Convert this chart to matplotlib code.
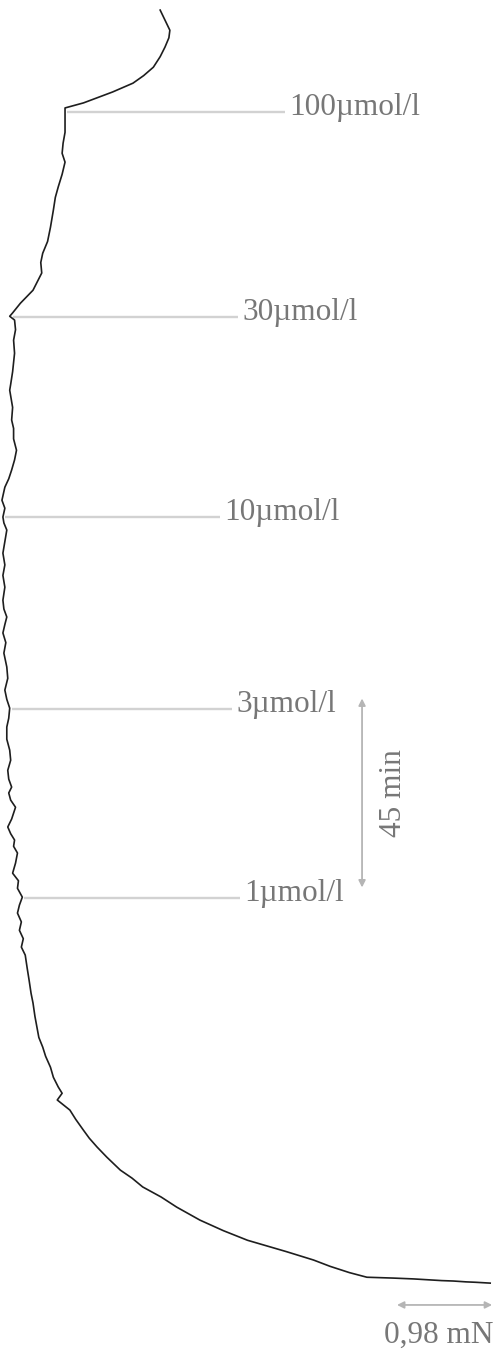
import numpy as np
import matplotlib
matplotlib.use("Agg")
import matplotlib.pyplot as plt

# tension trace: time (min, from start) and force (mN)
trace_time = [0.0, 0.2, 0.3, 0.5, 0.6, 0.8, 1.0, 1.2, 1.4, 2.5, 4.0, 5.5, 7.5, 10.2, 12.5,
              15.0, 18.1, 20.5, 22.9, 25.0, 26.9, 30.0, 32.4, 34.5, 36.4, 39.0, 41.2, 43.6,
              45.2, 46.7, 49.0, 51.4, 54.0, 56.2, 58.5, 61.0, 63.5, 66.7, 69.0, 72.1, 75.0,
              78.1, 80.0, 82.0, 84.0, 86.0, 88.1, 90.0, 91.9, 94.0, 95.8, 97.6, 100.0, 102.4,
              104.0, 105.5, 107.0, 108.6, 110.5, 113.3, 115.0, 116.7, 118.1, 120.0, 122.1,
              124.5, 126.9, 129.5, 132.4, 134.5, 136.9, 139.0, 141.2, 144.0, 146.7, 150.0,
              152.5, 154.8, 156.8, 158.6, 160.5, 162.6, 165.7, 168.5, 171.0, 173.8, 176.5,
              179.3, 181.0, 182.4, 184.5, 186.4, 189.5, 191.5, 193.6, 196.0, 198.3, 201.0,
              203.5, 205.5, 208.5, 212.6, 214.0, 217.0, 221.4, 224.5, 227.0, 229.3, 230.2,
              231.0, 233.3, 236.4, 240.5, 243.0, 245.2, 248.0, 251.4, 255.5, 258.5, 261.0,
              264.0, 266.9, 269.0, 271.4, 274.0, 276.9, 279.8, 281.0, 283.6, 285.7, 287.5,
              289.5, 292.0, 294.3, 296.5, 298.3, 300.7, 303.1]
trace_force = [5.05, 4.90, 4.80, 4.67, 4.55, 4.40, 4.26, 4.05, 3.78, 3.60, 3.40, 3.23, 2.95,
               2.55, 2.30, 2.06, 1.82, 1.66, 1.47, 1.36, 1.24, 1.10, 1.00, 0.92, 0.86, 0.78,
               0.72, 0.59, 0.64, 0.60, 0.55, 0.52, 0.47, 0.44, 0.40, 0.38, 0.36, 0.34, 0.32,
               0.30, 0.28, 0.26, 0.22, 0.24, 0.20, 0.22, 0.18, 0.20, 0.23, 0.18, 0.19, 0.13,
               0.16, 0.18, 0.14, 0.15, 0.11, 0.08, 0.12, 0.16, 0.11, 0.09, 0.12, 0.09, 0.08,
               0.11, 0.10, 0.07, 0.07, 0.09, 0.10, 0.07, 0.05, 0.08, 0.07, 0.04, 0.06, 0.03,
               0.05, 0.07, 0.04, 0.03, 0.05, 0.03, 0.05, 0.03, 0.05, 0.07, 0.04, 0.03, 0.05,
               0.02, 0.05, 0.09, 0.12, 0.15, 0.17, 0.14, 0.14, 0.12, 0.13, 0.10, 0.11, 0.13,
               0.15, 0.14, 0.16, 0.15, 0.10, 0.13, 0.21, 0.34, 0.43, 0.42, 0.44, 0.49, 0.52,
               0.55, 0.57, 0.60, 0.64, 0.67, 0.64, 0.65, 0.67, 0.67, 0.67, 0.86, 1.16, 1.37,
               1.48, 1.58, 1.65, 1.70, 1.74, 1.75, 1.70, 1.65]

# dose additions
dose_labels = ["1\u00b5mol/l", "3\u00b5mol/l", "10\u00b5mol/l", "30\u00b5mol/l", "100\u00b5mol/l"]
dose_times = [91.7, 136.7, 182.4, 230.0, 278.8]
dose_line_end = [2.47, 2.39, 2.27, 2.45, 2.94]

# scale bars
time_bar = [94.2, 139.2]      # 45 min
force_bar = [4.09, 5.07]      # 0.98 mN

grey_txt = "#777777"
grey_line = "#d2d2d2"

fig = plt.figure(figsize=(4.96, 13.52), dpi=100)
ax = fig.add_axes([0, 0, 1, 1])
ax.set_xlim(0, 5.11)
ax.set_ylim(-16.4, 305.5)
ax.axis("off")

t = np.array(trace_time)
f = np.array(trace_force)

for lab, td, xe in zip(dose_labels, dose_times, dose_line_end):
    xs = np.interp(td, t, f) + 0.02
    ax.plot([xs, xe], [td, td], color=grey_line, lw=1.7, solid_capstyle="butt", zorder=1)
    ax.annotate(lab, (xe, td), xytext=(3, -2.2), textcoords="offset points",
                ha="left", va="baseline", fontsize=22.5, color=grey_txt,
                family="Liberation Serif")

ax.plot(f, t, color="#1e1e1e", lw=1.2, solid_joinstyle="round", zorder=3)

# 45 min arrow
ax.annotate("", xy=(3.73, time_bar[1]), xytext=(3.73, time_bar[0]),
            arrowprops=dict(arrowstyle="<|-|>", color="#b5b5b5", lw=1.3,
                            mutation_scale=10, shrinkA=0, shrinkB=0))
ax.text(4.05, np.mean(time_bar), "45 min", rotation=90, ha="center", va="center",
        fontsize=22.5, color=grey_txt, family="Liberation Serif")

# 0,98 mN arrow
ax.annotate("", xy=(force_bar[1], -5.2), xytext=(force_bar[0], -5.2),
            arrowprops=dict(arrowstyle="<|-|>", color="#b5b5b5", lw=1.3,
                            mutation_scale=10, shrinkA=0, shrinkB=0))
ax.text(5.08, -12.4, "0,98 mN", ha="right", va="center", fontsize=22.5,
        color=grey_txt, family="Liberation Serif")

fig.savefig("out.png", dpi=100, facecolor="white")
